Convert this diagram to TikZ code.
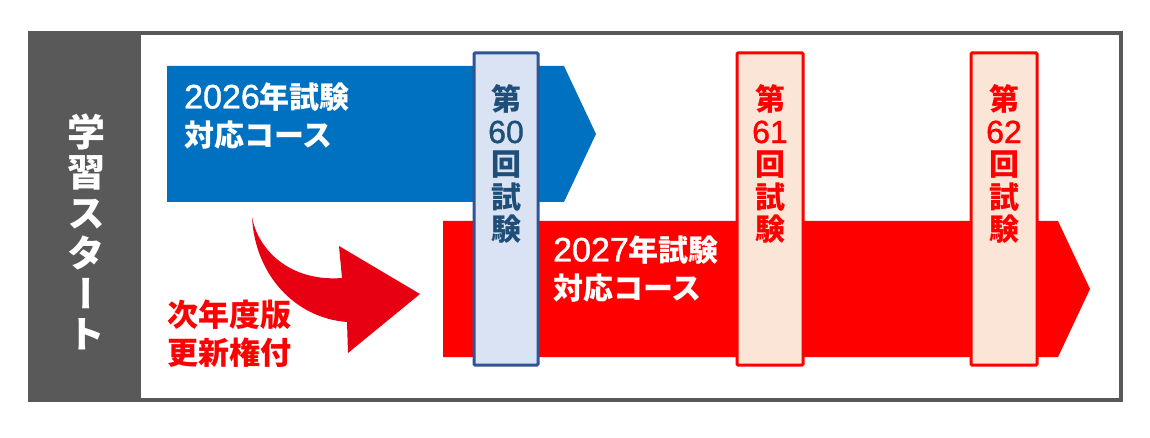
\documentclass[tikz,border=0pt]{standalone}
\usepackage{fontspec}
\newfontfamily\jp{Noto Sans CJK JP}
\newfontfamily\jpv{Noto Sans CJK JP}[RawFeature=+vert]
\newfontfamily\digitfontthick{Liberation Sans}[FakeBold=1.2]
\newcommand{\bignum}[1]{{\digitfontthick\mdseries\fontsize{34}{38}\selectfont #1}}
\newcommand{\boxnum}[1]{{\digitfontthick\mdseries\fontsize{32}{32.5}\selectfont #1}}
\definecolor{framegray}{HTML}{595959}
\definecolor{courseblue}{HTML}{0070C0}
\definecolor{coursered}{HTML}{FF0000}
\definecolor{curvred}{HTML}{E60012}
\definecolor{bluefill}{HTML}{DAE3F3}
\definecolor{blueline}{HTML}{2F5597}
\definecolor{bluetext}{HTML}{1F4E79}
\definecolor{peachfill}{HTML}{FBE5D6}
\tikzset{
  examblue/.style={draw=blueline, fill=bluefill, line width=3pt, rounded corners=1pt},
  examred/.style={draw=coursered, fill=peachfill, line width=3pt, rounded corners=1pt},
  examtext/.style={font=\jp\bfseries\fontsize{30}{32.5}\selectfont, align=center, inner sep=0pt},
  coursetext/.style={font=\jp\bfseries\fontsize{30}{38}\selectfont, align=left, inner sep=0pt, text=white, anchor=west},
}
\begin{document}
\begin{tikzpicture}[x=1pt,y=-1pt]
\useasboundingbox (0,0) rectangle (1150,438);
\fill[white] (0,0) rectangle (1150,438);
% frame
\fill[framegray] (30,33) rectangle (141,400);
\draw[framegray, line width=3.5pt] (30,33) rectangle (1121,400);
\node[font=\jpv\bfseries\fontsize{38}{40.5}\selectfont, text=white, align=center, inner sep=0pt] (start) at (86,232) {学\\習\\ス\\タ\\ー\\ト};
% blue course arrow
\fill[courseblue] (167,66) -- (564,66) -- (596,134) -- (564,202) -- (167,202) -- cycle;
% red course arrow
\fill[coursered] (443,221) -- (1058,221) -- (1090,289) -- (1058,357) -- (443,357) -- cycle;
\node[coursetext] (c2026) at (184,116) {\bignum{2026}年試験\\対応コース};
\node[coursetext] (c2027) at (553,269) {\bignum{2027}年試験\\対応コース};
% curved arrow
\fill[curvred] (252,217) .. controls (255,275) and (295,318) .. (347,322)
  -- (348,353) -- (420,294) -- (339,246) -- (342,278)
  .. controls (290,282) and (258,250) .. (252,217) -- cycle;
\node[font=\jp\bfseries\fontsize{31}{38}\selectfont, text=coursered, align=left, inner sep=0pt, anchor=west] (renew) at (167,334) {次年度版\\更新権付};
% exam boxes
\draw[examblue] (474,53) rectangle (538,365);
\node[examtext, text=bluetext] (e60) at (506,164) {第\\\boxnum{60}\\回\\試\\験};
\draw[examred] (737,53) rectangle (803,365);
\node[examtext, text=coursered] (e61) at (770,164) {第\\\boxnum{61}\\回\\試\\験};
\draw[examred] (971,53) rectangle (1037,365);
\node[examtext, text=coursered] (e62) at (1004,164) {第\\\boxnum{62}\\回\\試\\験};
\end{tikzpicture}
\end{document}
